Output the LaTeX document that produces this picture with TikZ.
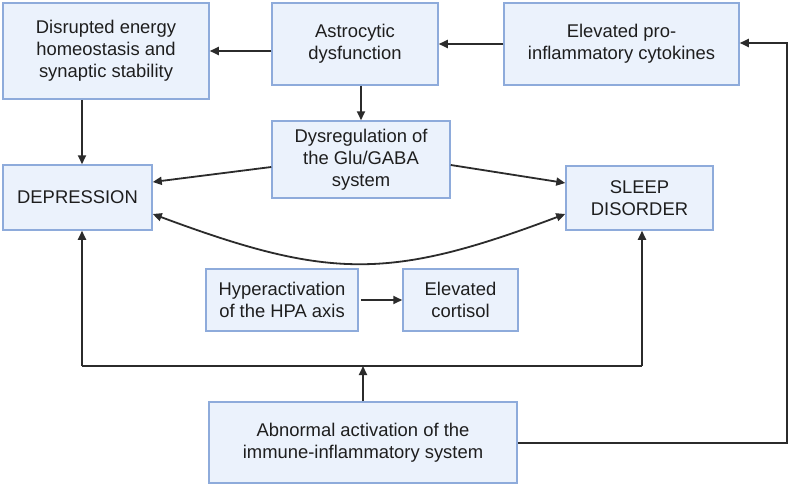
\documentclass[tikz,border=0pt]{standalone}
\usepackage{fontspec}
\setmainfont{Liberation Sans}
\usetikzlibrary{arrows.meta,calc}
\definecolor{boxfill}{HTML}{EBF2FC}
\definecolor{boxline}{HTML}{8EABDB}
\definecolor{txt}{HTML}{1E1E1E}
\definecolor{arr}{HTML}{2B2B2B}
\begin{document}
\begin{tikzpicture}[x=1pt,y=-1pt,
  box/.style={draw=boxline,fill=boxfill,line width=1.5pt,inner sep=0pt,align=center,
    text=txt,font=\fontsize{18.4}{22}\selectfont},
  conn/.style={draw=arr,line width=1.8pt,-{Triangle[length=9pt,width=8pt]}},
  plain/.style={draw=arr,line width=1.8pt}]
\useasboundingbox (0,0) rectangle (791,487);
\fill[white] (0,0) rectangle (791,487);
\node[box,minimum width=206pt,minimum height=96pt] (dis) at (106,51) {Disrupted energy\\homeostasis and\\synaptic stability};
\node[box,minimum width=166pt,minimum height=82pt] (ast) at (355,44) {Astrocytic\\dysfunction};
\node[box,minimum width=235pt,minimum height=82pt] (cyt) at (621.5,44) {Elevated pro-\\inflammatory cytokines};
\node[box,minimum width=178pt,minimum height=77pt] (dys) at (361,159.5) {Dysregulation of\\the Glu/GABA\\system};
\node[box,minimum width=149pt,minimum height=65pt] (dep) at (77.5,197.5) {DEPRESSION};
\node[box,minimum width=147pt,minimum height=64pt] (slp) at (639.5,198) {SLEEP\\DISORDER};
\node[box,minimum width=152pt,minimum height=62pt] (hpa) at (282,300) {Hyperactivation\\of the HPA axis};
\node[box,minimum width=115pt,minimum height=62pt] (cor) at (460.5,300) {Elevated\\cortisol};
\node[box,minimum width=308pt,minimum height=81pt] (abn) at (363,442.5) {Abnormal activation of the\\immune-inflammatory system};
\coordinate (jl) at (82,366);
\coordinate (jm) at (363,366);
\coordinate (jr) at (642,366);
\coordinate (rc) at (787,443);
\coordinate (rt) at (787,43);
% top row
\draw[conn] (cyt.west) -- (cyt.west -| ast.east);
\draw[conn] (ast.west |- dis.east) -- (dis.east);
\draw[conn] (ast.south -| dys.north) -- (dys.north);
\draw[conn] (dis.south -| jl) -- (dep.north -| jl);
% glu/gaba
\draw[conn] ([yshift=-7.5pt]dys.west) -- ([yshift=15.5pt]dep.east);
\draw[conn] ([yshift=-5.5pt]dys.east) -- ([yshift=15pt]slp.west);
% curved double arrow
\draw[draw=arr,line width=1.8pt,{Triangle[length=9pt,width=8pt]}-{Triangle[length=9pt,width=8pt]}]
  ([yshift=-16.5pt]dep.east) .. controls (330,280) and (390,280) .. ([yshift=-16pt]slp.west);
% HPA
\draw[conn] ([xshift=2pt]hpa.east) -- (cor.west);
% immune
\draw[conn] (abn.north) -- (jm);
\draw[plain] (jl) -- (jr);
\draw[conn] (jl) -- (dep.south -| jl);
\draw[conn] (jr) -- (slp.south -| jr);
\draw[conn] (abn.east |- rc) -- (rc) -- (rt) -- (cyt.east |- rt);
\end{tikzpicture}
\end{document}
